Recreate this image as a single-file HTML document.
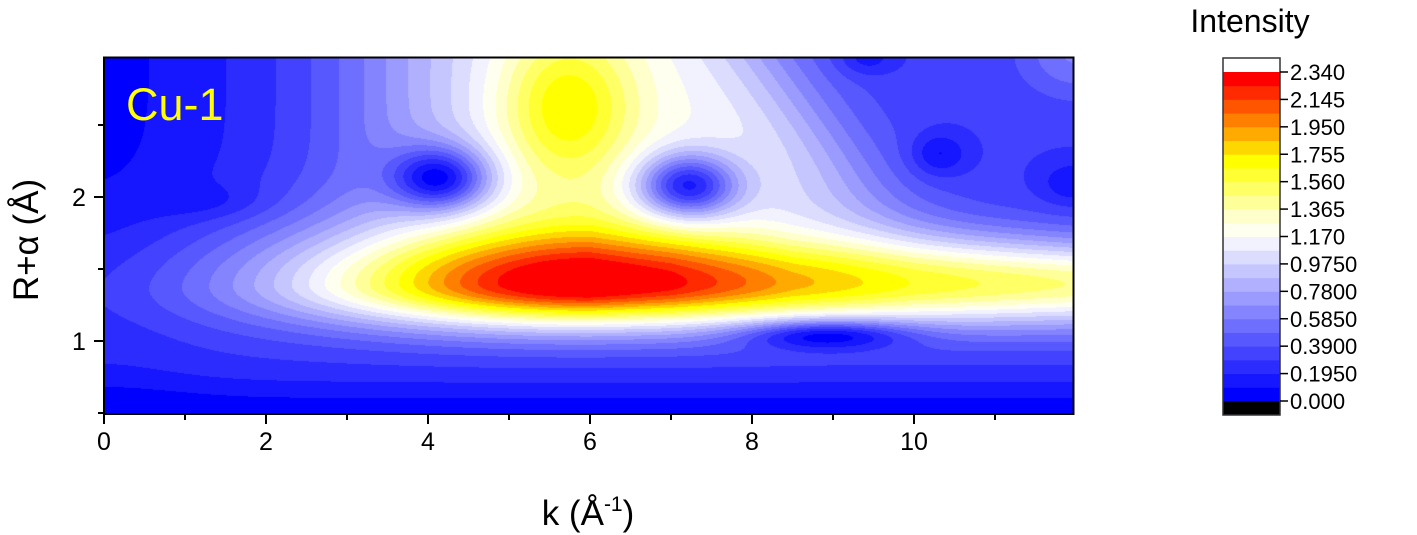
<!DOCTYPE html>
<html><head><meta charset="utf-8">
<style>
body{margin:0;background:#fff;width:1417px;height:535px;overflow:hidden;position:relative;font-family:"Liberation Sans",Arial,sans-serif;}
#c{position:absolute;left:104px;top:58px;}
</style></head><body>
<canvas id="c" width="969" height="356"></canvas>
<svg width="1417" height="535" style="position:absolute;left:0;top:0" xmlns="http://www.w3.org/2000/svg">
<rect x="104" y="57.5" width="969.5" height="356.5" fill="none" stroke="#000" stroke-width="2"/>
<g stroke="#000" stroke-width="2">
<line x1="104" y1="414" x2="104" y2="424"/><line x1="185" y1="414" x2="185" y2="420"/>
<line x1="266" y1="414" x2="266" y2="424"/><line x1="347" y1="414" x2="347" y2="420"/>
<line x1="428" y1="414" x2="428" y2="424"/><line x1="509" y1="414" x2="509" y2="420"/>
<line x1="590" y1="414" x2="590" y2="424"/><line x1="671" y1="414" x2="671" y2="420"/>
<line x1="752" y1="414" x2="752" y2="424"/><line x1="833" y1="414" x2="833" y2="420"/>
<line x1="914" y1="414" x2="914" y2="424"/><line x1="995" y1="414" x2="995" y2="420"/>
<line x1="94" y1="197" x2="104" y2="197"/><line x1="94" y1="341" x2="104" y2="341"/>
<line x1="98" y1="125" x2="104" y2="125"/><line x1="98" y1="269" x2="104" y2="269"/><line x1="98" y1="413" x2="104" y2="413"/>
</g>
<g style="font-family:'Liberation Sans',Arial,sans-serif;font-size:25px" text-anchor="middle">
<text x="104" y="450">0</text><text x="266" y="450">2</text><text x="428" y="450">4</text>
<text x="590" y="450">6</text><text x="752" y="450">8</text><text x="914" y="450">10</text>
<text x="79" y="206">2</text><text x="79" y="350">1</text>
</g>
<text x="588" y="525" style="font-family:'Liberation Sans',Arial,sans-serif;font-size:35px" text-anchor="middle">k (Å<tspan style="font-size:21px" dy="-14">-1</tspan><tspan dy="14">)</tspan></text>
<text transform="translate(38,240) rotate(-90)" style="font-family:'Liberation Sans',Arial,sans-serif;font-size:35px" text-anchor="middle">R+α (Å)</text>
<text x="126" y="120" style="font-family:'Liberation Sans',Arial,sans-serif;font-size:45px" fill="#ffff00">Cu-1</text>
<text x="1250" y="32" style="font-family:'Liberation Sans',Arial,sans-serif;font-size:32px" text-anchor="middle">Intensity</text>
<g id="cb"></g>
</svg>
<script>
var cols=[];
for(var i=0;i<12;i++){var v=Math.round(i*22);cols.push([v,v,255]);}
[240,204,153,102,51,0].forEach(function(b){cols.push([255,255,b]);});
[[255,215,0],[255,170,0],[255,128,0],[255,85,0],[255,42,0],[255,0,0]].forEach(function(c){cols.push(c);});
var ns="http://www.w3.org/2000/svg",cb=document.getElementById('cb');
function el(n,a){var e=document.createElementNS(ns,n);for(var k in a)e.setAttribute(k,a[k]);cb.appendChild(e);return e;}
var top0=72,bot=401,h=(bot-top0)/24;
el('rect',{x:1223,y:58,width:57,height:14,fill:'#fff'});
for(var i=0;i<24;i++){var c=cols[i];el('rect',{x:1223,y:bot-(i+1)*h,width:57,height:h+0.5,fill:'rgb('+c+')'});}
el('rect',{x:1223,y:401,width:57,height:14,fill:'#000'});
el('rect',{x:1223,y:58,width:57,height:357,fill:'none',stroke:'#333','stroke-width':1.5});
var labs=['0.000','0.1950','0.3900','0.5850','0.7800','0.9750','1.170','1.365','1.560','1.755','1.950','2.145','2.340'];
for(var i=0;i<13;i++){var y=bot-i*2*h;el('line',{x1:1280,y1:y,x2:1288,y2:y,stroke:'#000','stroke-width':1.5});
var t=el('text',{x:1290,y:y+8,style:"font-family:'Liberation Sans',Arial,sans-serif;font-size:22px"});t.textContent=labs[i];}
function g(k,R,k0,R0,sk,sr){var a=(k-k0)/sk,b=(R-R0)/sr;return Math.exp(-a*a-b*b);}
function sig(x){return 1/(1+Math.exp(-x));}
var AT=[[6,2.12],[7,1.95],[8.5,1.55],[10,1.32],[12,1.15]];
function Aof(k){
 if(k<6)return 2.12*Math.exp(-Math.pow((k-6)/3.5,2));
 for(var i=0;i<AT.length-1;i++){if(k<=AT[i+1][0]){var t=(k-AT[i][0])/(AT[i+1][0]-AT[i][0]);return AT[i][1]+t*(AT[i+1][1]-AT[i][1]);}}
 return 1.15;}
function f(k,R){
 var base=0.3*(1-Math.exp(-Math.pow((R-0.42)/0.3,2)));
 base-=0.06*Math.exp(-Math.pow(k/1.2,2));
 base-=0.18*sig((R-1.6)/0.25)*sig((2.3-k)/0.7);
 var A=Aof(k);
 var c=1.40;
 var w=R>c?(k>6?0.45-0.025*(k-6):0.45):0.3;
 var ridge=A*Math.exp(-Math.pow((R-c)/w,2));
 var ke=8.15+(2.97-R)*1.3;
 var U=0.9*sig((k-3.6)/0.7)*sig((ke-k)/0.45)*sig((R-1.85)/0.15);
 var v=base+ridge+U;
 v+=0.6*g(k,R,5.7,2.62,0.85,0.55);
 v-=0.9*g(k,R,4.15,2.13,0.6,0.22);
 v-=1.0*g(k,R,7.2,2.08,0.6,0.22);
 v-=0.25*g(k,R,10.3,2.3,0.35,0.15);
 v-=0.2*g(k,R,11.95,2.1,0.4,0.15);
 v-=0.2*g(k,R,9.4,2.97,0.35,0.12);
 v+=0.3*g(k,R,12,3.0,0.7,0.3);
 v-=0.6*g(k,R,8.9,1.05,1.0,0.1);
 v-=0.1*g(k,R,1.3,1.97,0.7,0.12);
 return v;
}
var cv=document.getElementById('c'),ctx=cv.getContext('2d'),W=cv.width,H=cv.height;
var im=ctx.createImageData(W,H),d=im.data;
for(var y=0;y<H;y++){var R=2.0-(y+58-197)/144;
 for(var x=0;x<W;x++){var k=x/81;var v=f(k,R);
  var b=Math.floor(v/0.0975);if(b<0)b=0;if(b>23)b=23;var c=cols[b],p=(y*W+x)*4;
  d[p]=c[0];d[p+1]=c[1];d[p+2]=c[2];d[p+3]=255;}}
ctx.putImageData(im,0,0);
</script>
</body></html>
